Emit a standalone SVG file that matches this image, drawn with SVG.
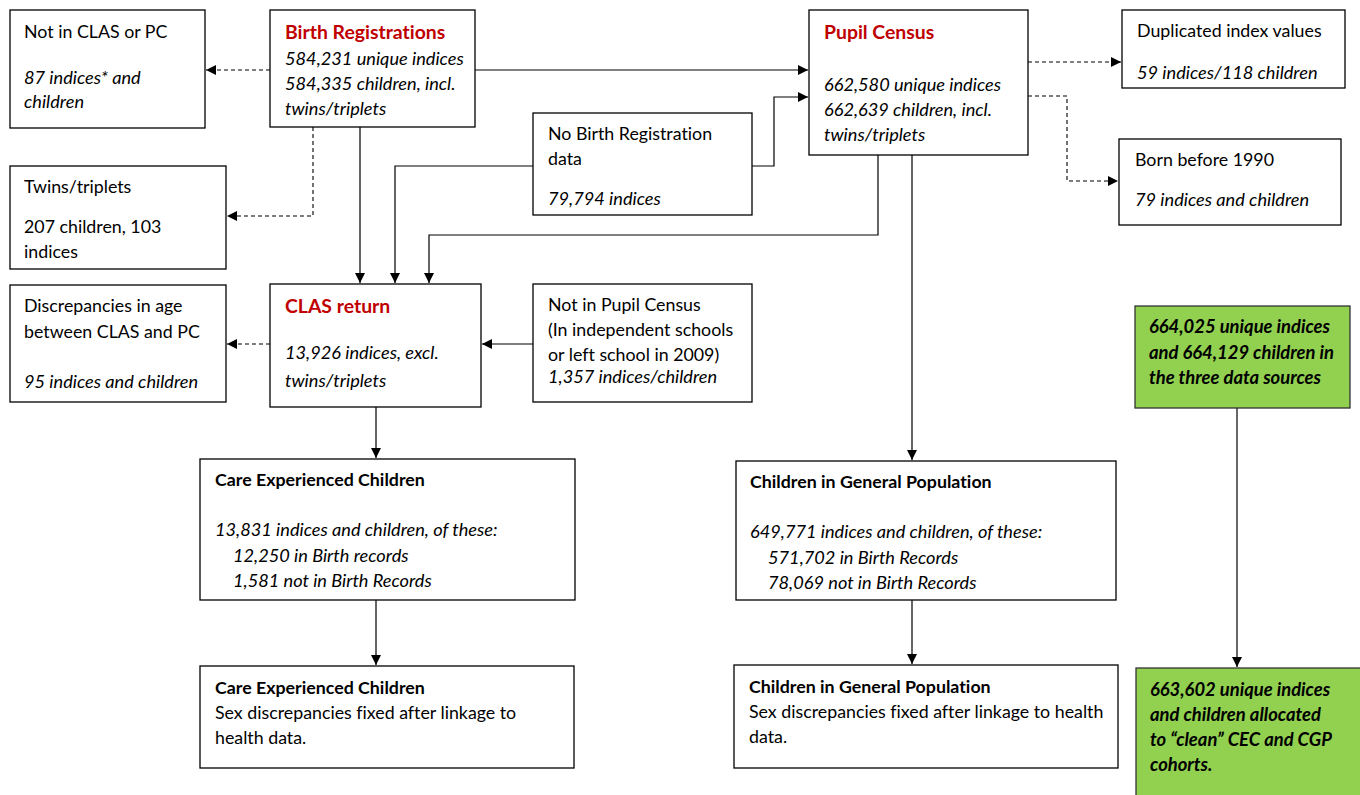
<svg xmlns="http://www.w3.org/2000/svg" width="1360" height="795" viewBox="0 0 1360 795">
<defs>
<style>
.box{fill:#fff;stroke:#000;stroke-width:1.3}
.green{fill:#92D050;stroke:#333;stroke-width:1.3}
text{font-family:Lato,"Liberation Sans",sans-serif;font-size:17.8px;fill:#000;font-variant-ligatures:none}
.t{font-weight:bold;fill:#C00000;font-size:19.4px}
.b{font-weight:bold}
.i{font-style:italic;font-size:18.2px}
.bi{font-weight:bold;font-style:italic;font-size:18.4px}
.c{fill:none;stroke:#000;stroke-width:1.2}
.d{fill:none;stroke:#000;stroke-width:1.1;stroke-dasharray:4,3}
</style>
<marker id="a" viewBox="0 0 10 10" refX="10" refY="5" markerWidth="10" markerHeight="10" markerUnits="userSpaceOnUse" orient="auto"><path d="M0,0L10,5L0,10z" fill="#000"/></marker>
</defs>
<rect width="1360" height="795" fill="#fff"/>
<g id="connectors">
<path class="d" d="M270,70H206" marker-end="url(#a)"/>
<path class="c" d="M475,70H808" marker-end="url(#a)"/>
<path class="d" d="M313,127V216H227" marker-end="url(#a)"/>
<path class="c" d="M360,127V283" marker-end="url(#a)"/>
<path class="c" d="M533,166H395V283" marker-end="url(#a)"/>
<path class="c" d="M752,166H774V97H808" marker-end="url(#a)"/>
<path class="c" d="M878,155V235H429V283" marker-end="url(#a)"/>
<path class="c" d="M912,155V460" marker-end="url(#a)"/>
<path class="d" d="M1028,62H1121" marker-end="url(#a)"/>
<path class="d" d="M1028,96H1067V181H1118" marker-end="url(#a)"/>
<path class="d" d="M270,344H227" marker-end="url(#a)"/>
<path class="c" d="M533,344H482" marker-end="url(#a)"/>
<path class="c" d="M376,407V458" marker-end="url(#a)"/>
<path class="c" d="M376,600V665" marker-end="url(#a)"/>
<path class="c" d="M912,600V664" marker-end="url(#a)"/>
<path class="c" d="M1237,408V667" marker-end="url(#a)"/>
</g>
<g id="notclaspc"><rect class="box" x="10" y="10" width="195" height="118"/>
<text x="24" y="38">Not in CLAS or PC</text>
<text class="i" x="24" y="84">87 indices* and</text>
<text class="i" x="24" y="108">children</text></g>
<g id="birthreg"><rect class="box" x="270" y="10" width="205" height="117"/>
<text class="t" x="285" y="39">Birth Registrations</text>
<text class="i" x="285" y="65">584,231 unique indices</text>
<text class="i" x="285" y="90">584,335 children, incl.</text>
<text class="i" x="285" y="115">twins/triplets</text></g>
<g id="pupilcensus"><rect class="box" x="809" y="10" width="219" height="145"/>
<text class="t" x="824" y="39">Pupil Census</text>
<text class="i" x="824" y="91">662,580 unique indices</text>
<text class="i" x="824" y="116">662,639 children, incl.</text>
<text class="i" x="824" y="141">twins/triplets</text></g>
<g id="duplicated"><rect class="box" x="1122" y="10" width="223" height="78"/>
<text x="1137" y="37">Duplicated index values</text>
<text class="i" x="1137" y="79">59 indices/118 children</text></g>
<g id="bornbefore"><rect class="box" x="1119" y="139" width="222" height="86"/>
<text x="1135" y="166">Born before 1990</text>
<text class="i" x="1135" y="206">79 indices and children</text></g>
<g id="nobirthreg"><rect class="box" x="533" y="113" width="219" height="102"/>
<text x="548" y="140">No Birth Registration</text>
<text x="548" y="165">data</text>
<text class="i" x="548" y="205">79,794 indices</text></g>
<g id="twins"><rect class="box" x="10" y="166" width="216" height="103"/>
<text x="24" y="193">Twins/triplets</text>
<text x="24" y="233">207 children, 103</text>
<text x="24" y="258">indices</text></g>
<g id="discrepancies"><rect class="box" x="10" y="285" width="216" height="117"/>
<text x="24" y="312">Discrepancies in age</text>
<text x="24" y="338">between CLAS and PC</text>
<text class="i" x="24" y="388">95 indices and children</text></g>
<g id="clas"><rect class="box" x="270" y="284" width="211" height="123"/>
<text class="t" x="285" y="313">CLAS return</text>
<text class="i" x="285" y="359">13,926 indices, excl.</text>
<text class="i" x="285" y="387">twins/triplets</text></g>
<g id="notinpc"><rect class="box" x="533" y="284" width="219" height="118"/>
<text x="548" y="311">Not in Pupil Census</text>
<text x="548" y="336">(In independent schools</text>
<text x="548" y="361">or left school in 2009)</text>
<text class="i" x="548" y="383">1,357 indices/children</text></g>
<g id="green1"><rect class="green" x="1135" y="306" width="215" height="102"/>
<text class="bi" x="1149" y="333">664,025 unique indices</text>
<text class="bi" x="1149" y="359">and 664,129 children in</text>
<text class="bi" x="1149" y="384">the three data sources</text></g>
<g id="cec1"><rect class="box" x="200" y="459" width="375" height="141"/>
<text class="b" x="215" y="486">Care Experienced Children</text>
<text class="i" x="215" y="536">13,831 indices and children, of these:</text>
<text class="i" x="233" y="562">12,250 in Birth records</text>
<text class="i" x="233" y="587">1,581 not in Birth Records</text></g>
<g id="cgp1"><rect class="box" x="736" y="461" width="380" height="139"/>
<text class="b" x="750" y="488">Children in General Population</text>
<text class="i" x="750" y="538">649,771 indices and children, of these:</text>
<text class="i" x="768" y="564">571,702 in Birth Records</text>
<text class="i" x="768" y="589">78,069 not in Birth Records</text></g>
<g id="cec2"><rect class="box" x="200" y="666" width="374" height="102"/>
<text class="b" x="215" y="694">Care Experienced Children</text>
<text x="215" y="719">Sex discrepancies fixed after linkage to</text>
<text x="215" y="744">health data.</text></g>
<g id="cgp2"><rect class="box" x="734" y="665" width="384" height="103"/>
<text class="b" x="749" y="693">Children in General Population</text>
<text x="749" y="718">Sex discrepancies fixed after linkage to health</text>
<text x="749" y="743">data.</text></g>
<g id="green2"><rect class="green" x="1136" y="668" width="230" height="140"/>
<text class="bi" x="1150" y="696">663,602 unique indices</text>
<text class="bi" x="1150" y="721">and children allocated</text>
<text class="bi" x="1150" y="746">to “clean” CEC and CGP</text>
<text class="bi" x="1150" y="771">cohorts.</text></g>
</svg>
